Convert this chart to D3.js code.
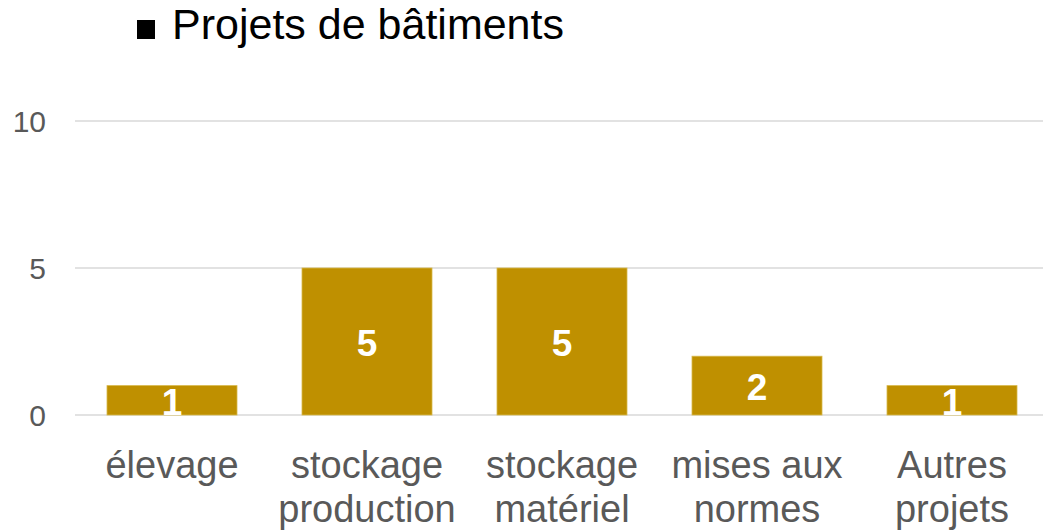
<!DOCTYPE html>
<html>
<head>
<meta charset="utf-8">
<script src="https://cdn.jsdelivr.net/npm/d3@7"></script>
<style>
  body { margin: 0; background: #fff; }
  text { font-family: "Liberation Sans", Arial, Helvetica, sans-serif; }
</style>
</head>
<body>
<script>
var w = 1043,
    h = 532;

var categories = [["élevage"], ["stockage", "production"], ["stockage", "matériel"], ["mises aux", "normes"], ["Autres", "projets"]];
var values = [1, 5, 5, 2, 1];
var yTicks = [0, 5, 10];
var seriesName = "Projets de bâtiments";

var svg = d3.select("body").append("svg")
    .attr("width", w)
    .attr("height", h);

var x = d3.scaleBand()
    .domain(d3.range(categories.length))
    .range([74.5, 1049.5])
    .paddingInner(1 / 3)
    .paddingOuter(1 / 6);

var y = d3.scaleLinear()
    .domain([0, 10])
    .range([415, 121]);

// gridlines
svg.append("g").selectAll("line").data(yTicks).enter().append("line")
    .attr("x1", 75).attr("x2", w)
    .attr("y1", function(d) { return y(d); })
    .attr("y2", function(d) { return y(d); })
    .attr("stroke", "#d9d9d9")
    .attr("stroke-width", 1.5);

// y tick labels
svg.append("g").selectAll("text").data(yTicks).enter().append("text")
    .attr("x", 46)
    .attr("y", function(d) { return y(d); })
    .attr("text-anchor", "end")
    .attr("dominant-baseline", "central")
    .attr("fill", "#595959")
    .style("font-size", "30px")
    .text(function(d) { return d; });

var defs = svg.append("defs");
defs.selectAll("clipPath").data(values).enter().append("clipPath")
    .attr("id", function(d, i) { return "clip" + i; })
  .append("rect")
    .attr("x", function(d, i) { return x(i); })
    .attr("y", function(d) { return y(d); })
    .attr("width", x.bandwidth())
    .attr("height", function(d) { return y(0) - y(d) + 3; });

// bars
svg.append("g").selectAll("rect").data(values).enter().append("rect")
    .attr("x", function(d, i) { return x(i); })
    .attr("y", function(d) { return y(d); })
    .attr("width", x.bandwidth())
    .attr("height", function(d) { return y(0) - y(d); })
    .attr("fill", "#BF9000")
    .attr("stroke", "#d8b84a")
    .attr("stroke-width", 0.8);

// value labels
svg.append("g").selectAll("text").data(values).enter().append("text")
    .attr("clip-path", function(d, i) { return "url(#clip" + i + ")"; })
    .attr("x", function(d, i) { return x(i) + x.bandwidth() / 2; })
    .attr("y", function(d) { return (y(d) + y(0)) / 2 + 2; })
    .attr("text-anchor", "middle")
    .attr("dominant-baseline", "central")
    .attr("fill", "#fff")
    .style("font-size", "37px")
    .style("font-weight", "bold")
    .text(function(d) { return d; });

// category labels
var cat = svg.append("g").selectAll("text").data(categories).enter().append("text")
    .attr("x", function(d, i) { return x(i) + x.bandwidth() / 2; })
    .attr("y", 478)
    .attr("text-anchor", "middle")
    .attr("fill", "#595959")
    .style("font-size", "38px");

cat.selectAll("tspan").data(function(d) { return d; }).enter().append("tspan")
    .attr("x", function() { return d3.select(this.parentNode).attr("x"); })
    .attr("dy", function(d, i) { return i ? 44 : 0; })
    .text(function(d) { return d; });

// legend
svg.append("rect")
    .attr("x", 137).attr("y", 20)
    .attr("width", 18).attr("height", 19)
    .attr("fill", "#000");

svg.append("text")
    .attr("x", 172).attr("y", 39)
    .attr("fill", "#000")
    .style("font-size", "43px")
    .text(seriesName);
</script>
</body>
</html>
